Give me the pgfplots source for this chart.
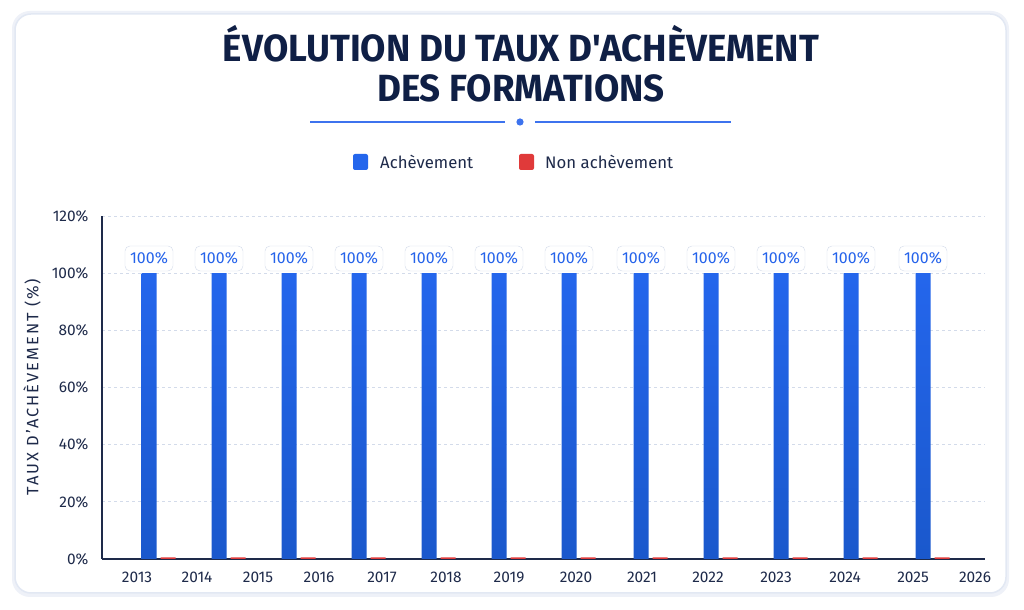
\documentclass[border=0pt]{standalone}
\usepackage{fontspec}
\setmainfont{Fira Sans}
\newfontfamily\titlefont[FakeStretch=0.97]{Fira Sans}
\usepackage{pgfplots}
\pgfplotsset{compat=1.18}
\definecolor{navy}{HTML}{0F1F45}
\definecolor{ink}{HTML}{1E2A4A}
\definecolor{barblue}{HTML}{2466EC}
\definecolor{barbluedark}{HTML}{1A58CC}
\definecolor{barred}{HTML}{E03A3A}
\definecolor{gridc}{HTML}{D3DBEA}
\definecolor{lblue}{HTML}{2563EB}
\definecolor{deco}{HTML}{3D73EE}
\definecolor{shadow}{HTML}{E2E8F3}
\begin{document}
\begin{tikzpicture}[x=1bp,y=1bp]
\useasboundingbox (0,0) rectangle (1024,610);
\fill[white] (0,0) rectangle (1024,610);
\fill[shadow!60,rounded corners=18bp] (12,13) rectangle (1009,599);
\fill[white,draw=shadow,line width=1.5bp,rounded corners=16bp] (15,17) rectangle (1006,596);
% title
\node[anchor=base,text=navy,font=\titlefont\bfseries\fontsize{38}{44}\selectfont] at (521,548) {ÉVOLUTION DU TAUX D'ACHÈVEMENT};
\node[anchor=base,text=navy,font=\titlefont\bfseries\fontsize{38}{44}\selectfont] at (521,508) {DES FORMATIONS};
\draw[deco,line width=1.2bp] (310,488) -- (505,488);
\draw[deco,line width=1.2bp] (535,488) -- (731,488);
\fill[deco] (520,488) circle (3.6);
% legend
\fill[barblue,rounded corners=2bp] (353,440) rectangle (368,456);
\node[anchor=west,text=ink,font=\fontsize{16.8}{19}\selectfont,inner sep=0] at (380,448) {Achèvement};
\fill[barred,rounded corners=2bp] (519,440) rectangle (534,456);
\node[anchor=west,text=ink,font=\fontsize{16.8}{19}\selectfont,inner sep=0] at (545,448) {Non achèvement};
% y label
\node[rotate=90,text=ink,font=\fontsize{16.5}{19}\selectfont\addfontfeatures{LetterSpace=12}] at (32,223) {TAUX D'ACHÈVEMENT (\%)};
\begin{scope}[shift={(102bp,51bp)}]
\begin{axis}[
  at={(0,0)}, anchor=south west,
  scale only axis, width=883bp, height=343bp,
  xmin=102, xmax=985, ymin=0, ymax=120,
  axis lines=left, axis line style={ink,line width=1.3bp,-},
  ybar, bar width=15bp,
  xtick={137,197,258,319,382,446,509,576,642,708,776,845,913,975},
  xticklabels={2013,2014,2015,2016,2017,2018,2019,2020,2021,2022,2023,2024,2025,2026},
  ytick={0,20,40,60,80,100,120},
  yticklabel={\pgfmathprintnumber{\tick}\%},
  major tick length=0pt,
  ymajorgrids, major grid style={gridc,dash pattern=on 3bp off 3bp,line width=0.8bp},
  tick label style={text=ink,font=\fontsize{15.5}{18}\selectfont},
  xticklabel style={yshift=-9bp},
  yticklabel style={xshift=-10bp},
  /pgf/number format/assume math mode=true,
  clip=false,
]
\addplot[bar shift=-9.5bp, draw=none, top color=barblue, bottom color=barbluedark,
  nodes near coords={100\%},
  every node near coord/.append style={anchor=south,yshift=2bp,fill=white,draw=gridc,rounded corners=5bp,
    minimum width=48bp,minimum height=25bp,inner sep=0pt,text=lblue,font=\fontsize{16}{19}\selectfont}]
coordinates {(158.5,100) (228.5,100) (298.5,100) (368.5,100) (438.5,100) (508.5,100) (578.5,100) (650.5,100) (720.5,100) (790.5,100) (860.5,100) (932.5,100)};
\addplot[bar shift=9.5bp, draw=none, fill=barred]
coordinates {(158.5,0.6) (228.5,0.6) (298.5,0.6) (368.5,0.6) (438.5,0.6) (508.5,0.6) (578.5,0.6) (650.5,0.6) (720.5,0.6) (790.5,0.6) (860.5,0.6) (932.5,0.6)};
\end{axis}
\end{scope}
\end{tikzpicture}
\end{document}
